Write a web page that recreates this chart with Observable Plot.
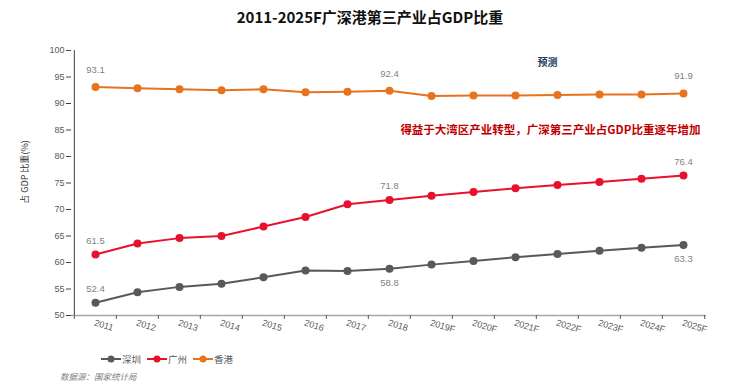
<!DOCTYPE html>
<html><head><meta charset="utf-8">
<script src="https://cdn.jsdelivr.net/npm/d3@7"></script>
<script src="https://cdn.jsdelivr.net/npm/@observablehq/plot@0.6"></script>
<style>
body{margin:0;background:#fff;font-family:"Liberation Sans","Noto Sans CJK SC",sans-serif;}
#wrap{position:relative;width:740px;height:387px;overflow:hidden;background:#fff;}
#title{position:absolute;left:0;top:6px;width:740px;text-align:center;font-family:"Noto Sans CJK SC",sans-serif;font-weight:bold;font-size:15px;color:#111;}
#chart{position:absolute;left:0;top:0;}
#ylab{position:absolute;left:24px;top:172px;transform:translate(-50%,-50%) rotate(-90deg);white-space:nowrap;font-family:"Noto Sans CJK SC",sans-serif;font-size:9px;color:#333;}
#legend{position:absolute;left:101px;top:352px;display:flex;gap:6px;font-family:"Noto Sans CJK SC",sans-serif;font-size:9.5px;color:#595959;}
#legend .item{display:flex;align-items:center;gap:1px;}
#source{position:absolute;left:60px;top:370px;font-family:"Noto Sans CJK SC",sans-serif;font-style:italic;font-size:8.5px;color:#7f7f7f;}
</style></head><body>
<div id="wrap">
<div id="chart"></div>
<div id="title">2011-2025F广深港第三产业占GDP比重</div>
<div id="ylab">占 GDP 比重(%)</div>
<div id="legend"></div>
<div id="source">数据源：国家统计局</div>
</div>
<script>
const years = ["2011","2012","2013","2014","2015","2016","2017","2018","2019F","2020F","2021F","2022F","2023F","2024F","2025F"];
const shenzhen  = [52.4,54.4,55.4,56.0,57.2,58.5,58.4,58.8,59.6,60.3,61.0,61.6,62.2,62.8,63.3];
const guangzhou = [61.5,63.6,64.6,65.0,66.8,68.6,71.0,71.8,72.6,73.3,74.0,74.6,75.2,75.8,76.4];
const hongkong  = [93.1,92.9,92.7,92.5,92.7,92.1,92.2,92.4,91.4,91.5,91.5,91.6,91.7,91.7,91.9];
const seriesNames = ["深圳","广州","香港"];
const seriesColors = ["#595959","#e8112d","#e8731e"];
const yTicks = [50,55,60,65,70,75,80,85,90,95,100];
const labelledYears = ["2011","2018","2025F"];
const forecastNote = {text:"预测", year:"2022F", value:97.7};
const insightNote = {text:"得益于大湾区产业转型，广深第三产业占GDP比重逐年增加", year:"2025F", value:84.9};

const seriesValues = [shenzhen, guangzhou, hongkong];
const table = seriesNames.flatMap((s, k) => years.map((year, i) => ({series: s, year, value: seriesValues[k][i]})));
const labelled = table.filter(d => labelledYears.includes(d.year));
const below = d => d.series === "深圳" && d.year !== "2011";

const W = 740, H = 340, ML = 71, MR = 34, MT = 50, MB = 25;
const bw = (W - ML - MR) / years.length;

const chart = Plot.plot({
  width: W, height: H,
  marginLeft: ML, marginRight: MR, marginTop: MT, marginBottom: MB,
  style: {fontFamily: '"Liberation Sans","Noto Sans CJK SC",sans-serif', background: "transparent"},
  x: {type: "band", domain: years, padding: 0},
  y: {domain: [50, 100]},
  color: {domain: seriesNames, range: seriesColors},
  marks: [
    Plot.ruleY([50], {stroke: "#a6a6a6", strokeWidth: 1.5}),
    Plot.ruleX([years[0]], {dx: -bw / 2, stroke: "#404040", strokeWidth: 1}),
    Plot.axisY({ticks: yTicks, tickSize: 5, tickPadding: 2, fontSize: 9, color: "#595959", stroke: "#404040", label: null}),
    Plot.axisX({tickSize: 4, dx: -bw / 2, tickFormat: () => "", label: null, stroke: "#595959"}),
    Plot.axisX({ticks: [years[years.length - 1]], tickSize: 4, dx: bw / 2, tickFormat: () => "", label: null, stroke: "#595959"}),
    Plot.axisX({tickSize: 0, tickRotate: 17, textAnchor: "start", tickPadding: 7, dx: -1, fontSize: 9, fill: "#595959", label: null}),
    Plot.line(table, {x: "year", y: "value", z: "series", stroke: "series", strokeWidth: 2}),
    Plot.dot(table, {x: "year", y: "value", fill: "series", r: 4}),
    Plot.text(labelled.filter(d => d.series === "香港"), {x: "year", y: "value", text: d => d.value.toFixed(1), fill: "#7f7f7f", fontSize: 9.5, dy: -17}),
    Plot.text(labelled.filter(d => d.series !== "香港" && !below(d)), {x: "year", y: "value", text: d => d.value.toFixed(1), fill: "#7f7f7f", fontSize: 9.5, dy: -14}),
    Plot.text(labelled.filter(d => below(d)), {x: "year", y: "value", text: d => d.value.toFixed(1), fill: "#7f7f7f", fontSize: 9.5, dy: 14}),
    Plot.text([forecastNote], {x: "year", y: "value", text: "text", dx: -10, fill: "#1f3864", fontWeight: "bold", fontSize: 10, fontFamily: "Noto Sans CJK SC"}),
    Plot.text([insightNote], {x: "year", y: "value", text: "text", dx: 17, textAnchor: "end", fill: "#c00000", fontWeight: "bold", fontSize: 11.5, fontFamily: "Noto Sans CJK SC"})
  ]
});
document.getElementById("chart").appendChild(chart);

const legend = document.getElementById("legend");
seriesNames.forEach((s, k) => {
  const item = document.createElement("div");
  item.className = "item";
  item.innerHTML = `<svg width="20" height="10"><line x1="0" x2="20" y1="5" y2="5" stroke="${seriesColors[k]}" stroke-width="2"/><circle cx="10" cy="5" r="3.5" fill="${seriesColors[k]}"/></svg><span>${s}</span>`;
  legend.appendChild(item);
});
</script>
</body></html>
